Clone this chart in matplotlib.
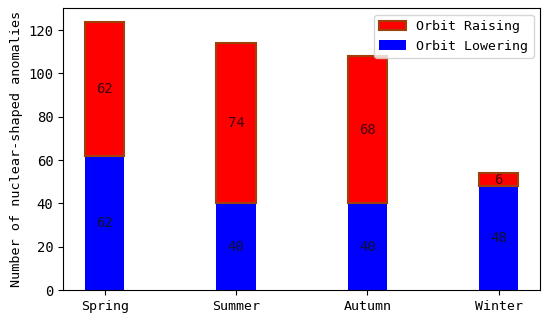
import matplotlib
matplotlib.use("Agg")
import matplotlib.pyplot as plt
import numpy as np

seasons = ["Spring", "Summer", "Autumn", "Winter"]
lowering = [62, 40, 40, 48]
raising = [62, 74, 68, 6]

plt.rcParams['font.family'] = ['DejaVu Sans Mono']

fig = plt.figure(figsize=(5.5, 3.23), dpi=100)
ax = fig.add_axes([0.115, 0.102, 0.867, 0.873])

x = np.arange(len(seasons))
w = 0.3
b1 = ax.bar(x, lowering, w, color='#0000ff', label='Orbit Lowering')
b2 = ax.bar(x, raising, w, bottom=lowering, color='#ff0000', edgecolor='#a0400a',
            linewidth=1.5, label='Orbit Raising')

for xi, lo, ra in zip(x, lowering, raising):
    ax.text(xi, lo / 2, str(lo), ha='center', va='center', fontsize=10, color='#101030')
    ax.text(xi, lo + ra / 2, str(ra), ha='center', va='center', fontsize=10, color='#400010')

ax.set_xticks(x)
ax.set_xticklabels(seasons, fontsize=9.5)
ax.tick_params(axis='y', labelsize=10)
ax.set_ylabel('Number of nuclear-shaped anomalies', fontsize=9.7)
ax.set_yticks([0, 20, 40, 60, 80, 100, 120])

handles = [b2, b1]
ax.legend(handles, ['Orbit Raising', 'Orbit Lowering'], loc='upper right', fontsize=9.5)

fig.savefig('out.png', dpi=100)
